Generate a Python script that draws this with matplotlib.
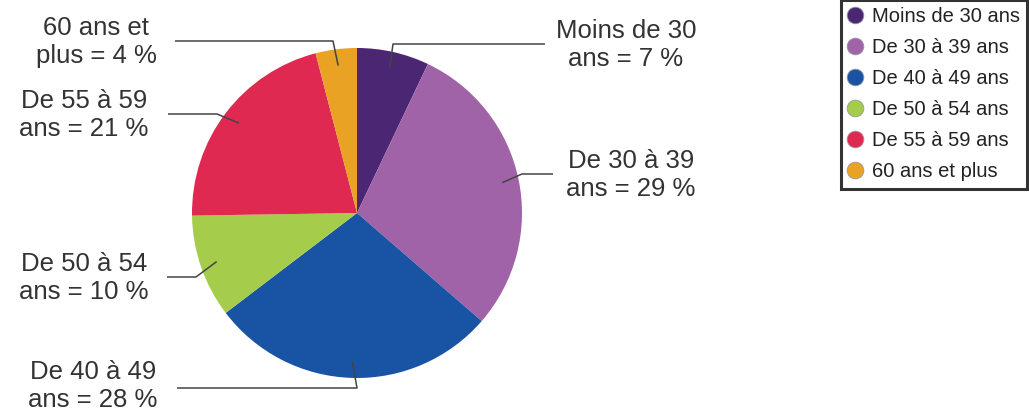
import matplotlib.pyplot as plt
from matplotlib.lines import Line2D
import numpy as np

# age groups and their share (%)
categories = ['Moins de 30 ans', 'De 30 à 39 ans', 'De 40 à 49 ans',
              'De 50 à 54 ans', 'De 55 à 59 ans', '60 ans et plus']
values = [7, 29, 28, 10, 21, 4]
labels = ['Moins de 30\nans = 7 %', 'De 30 à 39\nans = 29 %', 'De 40 à 49\nans = 28 %',
          'De 50 à 54\nans = 10 %', 'De 55 à 59\nans = 21 %', '60 ans et\nplus = 4 %']
colors = ['#4a2673', '#a063a7', '#1953a4', '#a6cc4b', '#e02951', '#e9a224']

W, H = 1029, 412
plt.rcParams['font.family'] = ['Liberation Sans', 'DejaVu Sans']

fig = plt.figure(figsize=(W / 100, H / 100), dpi=100)
ax = fig.add_axes([0, 0, 1, 1])

cx, cy, R = 357, H - 213, 165
wedges, _ = ax.pie(values, colors=colors, startangle=90, counterclock=False,
                   center=(cx, cy), radius=R, wedgeprops=dict(linewidth=0))
ax.set_xlim(0, W)
ax.set_ylim(0, H)
ax.set_aspect('equal')
ax.axis('off')

# leader lines: anchor inside the wedge -> elbow -> end at the label (pixel coords, y down)
elbows = [(393, 44), (522, 174), (357, 388), (196, 277), (217, 114), (333, 41)]
ends_x = [545, 553, 177, 167, 168, 175]
text_pos = [(626, 45), (631, 175), (93, 386), (84, 278), (84, 115), (96, 42)]

for w, (ex, ey), endx, (tx, ty), lab in zip(wedges, elbows, ends_x, text_pos, labels):
    mid = np.deg2rad((w.theta1 + w.theta2) / 2)
    ax_x = cx + 0.9 * R * np.cos(mid)
    ax_y = cy + 0.9 * R * np.sin(mid)
    ax.plot([ax_x, ex, endx], [ax_y, H - ey, H - ey], color='#444444', lw=1.1,
            solid_capstyle='butt')
    ax.text(tx, H - ty, lab, ha='center', va='center', fontsize=18.5,
            color='#333333', linespacing=1.25)

handles = [Line2D([], [], marker='o', ls='none', markersize=12, markerfacecolor=c,
                  markeredgecolor='#999999', markeredgewidth=0.6) for c in colors]
leg = ax.legend(handles, categories, loc='upper right', bbox_to_anchor=(1027 / W, 1.0),
                bbox_transform=fig.transFigure, fontsize=14.5, frameon=True, fancybox=False,
                handlelength=0.7, handletextpad=0.5, labelspacing=0.6, borderpad=0.35,
                borderaxespad=0, labelcolor='#222222')
leg.get_frame().set_edgecolor('black')
leg.get_frame().set_linewidth(2.2)

fig.savefig('out.png', dpi=100)
